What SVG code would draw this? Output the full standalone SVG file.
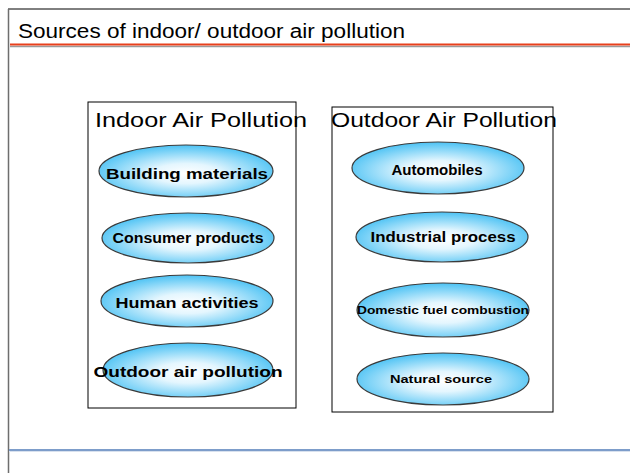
<svg xmlns="http://www.w3.org/2000/svg" width="630" height="473" viewBox="0 0 630 473">
  <style>
    .frame { fill: none; stroke: #000; stroke-width: 1; }
    .oval { fill: url(#skyGlow); stroke: #3a3a3a; stroke-width: 1.2; }
    .label { font-family: "Liberation Sans", Arial, sans-serif; font-weight: bold; font-size: 14px; fill: #000; text-anchor: middle; }
    .small { font-size: 11px; }
    .heading { font-family: "Liberation Sans", Arial, sans-serif; font-size: 21px; fill: #000; }
  </style>
  <defs>
    <radialGradient id="skyGlow" cx="50%" cy="55%" r="55%">
      <stop offset="0" stop-color="#ffffff"/>
      <stop offset="0.35" stop-color="#e4f6fe"/>
      <stop offset="1" stop-color="#4cc2f4"/>
    </radialGradient>
  </defs>

  <rect width="630" height="473" fill="#fff"/>

  <!-- slide frame -->
  <g id="slide-frame">
    <line x1="8" y1="9" x2="630" y2="9" stroke="#000" stroke-width="1"/>
    <line x1="8.5" y1="9" x2="8.5" y2="473" stroke="#6e6e6e" stroke-width="1.5"/>
    <line x1="10" y1="46.5" x2="630" y2="46.5" stroke="#9a9a9a" stroke-width="1.5"/>
    <line x1="10" y1="44.5" x2="630" y2="44.5" stroke="#e8401c" stroke-width="2"/>
    <line x1="9" y1="450" x2="630" y2="450" stroke="#7d9dca" stroke-width="2"/>
    <line x1="9" y1="451.5" x2="630" y2="451.5" stroke="#d8e1ee" stroke-width="1"/>
    <text x="18" y="38" font-family="'Liberation Sans', Arial, sans-serif" font-size="20" textLength="387" lengthAdjust="spacingAndGlyphs" fill="#000">Sources of indoor/ outdoor air pollution</text>
  </g>

  <!-- indoor column -->
  <g id="indoor-panel">
    <rect class="frame" x="88" y="102" width="208" height="306"/>
    <text class="heading" x="95" y="127" textLength="212" lengthAdjust="spacingAndGlyphs">Indoor Air Pollution</text>
  </g>
  <g id="building-materials">
    <ellipse class="oval" cx="186" cy="171" rx="87" ry="26"/>
    <text class="label" x="187" y="179" textLength="162" lengthAdjust="spacingAndGlyphs">Building materials</text>
  </g>
  <g id="consumer-products">
    <ellipse class="oval" cx="188" cy="238" rx="86" ry="25"/>
    <text class="label" x="188" y="243" textLength="151" lengthAdjust="spacingAndGlyphs">Consumer products</text>
  </g>
  <g id="human-activities">
    <ellipse class="oval" cx="187" cy="301" rx="86" ry="26"/>
    <text class="label" x="187" y="308" textLength="143" lengthAdjust="spacingAndGlyphs">Human activities</text>
  </g>
  <g id="outdoor-air-pollution">
    <ellipse class="oval" cx="188" cy="370" rx="85" ry="27"/>
    <text class="label" x="188" y="377" textLength="189" lengthAdjust="spacingAndGlyphs">Outdoor air pollution</text>
  </g>

  <!-- outdoor column -->
  <g id="outdoor-panel">
    <rect class="frame" x="332" y="107" width="221" height="305"/>
    <text class="heading" x="331" y="127" textLength="226" lengthAdjust="spacingAndGlyphs">Outdoor Air Pollution</text>
  </g>
  <g id="automobiles">
    <ellipse class="oval" cx="438" cy="168" rx="86" ry="26"/>
    <text class="label" x="437" y="175" textLength="91" lengthAdjust="spacingAndGlyphs">Automobiles</text>
  </g>
  <g id="industrial-process">
    <ellipse class="oval" cx="442" cy="237" rx="86" ry="25"/>
    <text class="label" x="443" y="242" textLength="145" lengthAdjust="spacingAndGlyphs">Industrial process</text>
  </g>
  <g id="domestic-fuel-combustion">
    <ellipse class="oval" cx="443" cy="310" rx="86" ry="27"/>
    <text class="label small" x="443" y="314" textLength="172" lengthAdjust="spacingAndGlyphs">Domestic fuel combustion</text>
  </g>
  <g id="natural-source">
    <ellipse class="oval" cx="443" cy="379" rx="86" ry="26"/>
    <text class="label small" x="441" y="383" textLength="102" lengthAdjust="spacingAndGlyphs">Natural source</text>
  </g>
</svg>
